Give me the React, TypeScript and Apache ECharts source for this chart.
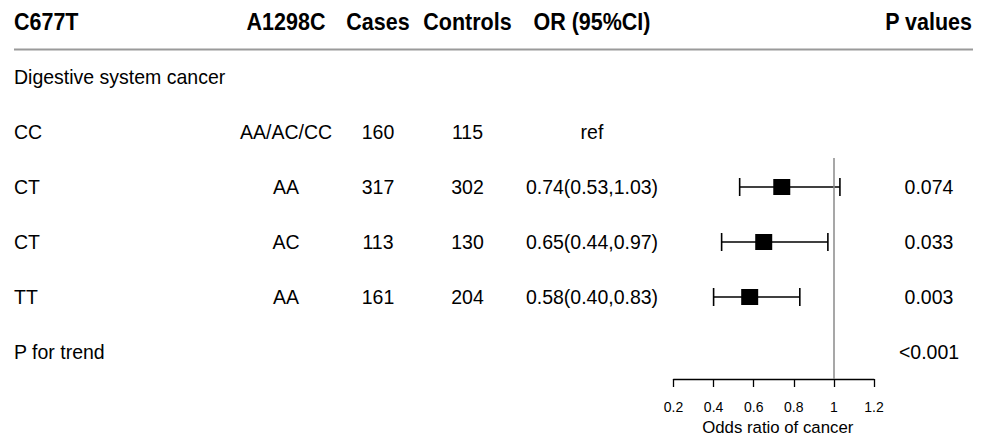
import React, { useEffect, useRef } from "react";
import * as echarts from "echarts";

// ---- Data ----
const headers = ["C677T", "A1298C", "Cases", "Controls", "OR (95%CI)", "P values"];
const groupLabel = "Digestive system cancer";
const c677t = ["CC", "CT", "CT", "TT"];
const a1298c = ["AA/AC/CC", "AA", "AC", "AA"];
const cases = [160, 317, 113, 161];
const controls = [115, 302, 130, 204];
const orText = ["ref", "0.74(0.53,1.03)", "0.65(0.44,0.97)", "0.58(0.40,0.83)"];
const orValues: (number | null)[] = [null, 0.74, 0.65, 0.58];
const ciLow: (number | null)[] = [null, 0.53, 0.44, 0.40];
const ciHigh: (number | null)[] = [null, 1.03, 0.97, 0.83];
const pValues = ["", "0.074", "0.033", "0.003"];
const trendLabel = "P for trend";
const trendP = "<0.001";
const axisTitle = "Odds ratio of cancer";
const refOR = 1;

const FONT = "'Liberation Sans', Arial, Helvetica, sans-serif";

export default function App() {
  const ref = useRef<HTMLDivElement>(null);
  useEffect(() => {
    if (!ref.current) return;
    const chart = echarts.init(ref.current, null, { renderer: "svg" });

    const points = orValues
      .map((v, i) => (v == null ? null : [v, i]))
      .filter((d) => d != null) as number[][];
    const bars = orValues
      .map((v, i) => (v == null ? null : [ciLow[i] as number, ciHigh[i] as number, i]))
      .filter((d) => d != null) as number[][];

    chart.setOption({
      animation: false,
      textStyle: { fontFamily: FONT },
      grid: { left: 673.5, right: 110, top: 158, bottom: 57, containLabel: false, outerBoundsMode: "none" },
      xAxis: {
        type: "value",
        min: 0.2,
        max: 1.2,
        interval: 0.2,
        axisLine: { show: true, lineStyle: { color: "#000", width: 1.3 } },
        axisTick: { show: true, length: 8, lineStyle: { color: "#000", width: 1.3 } },
        axisLabel: { fontSize: 14, color: "#000", margin: 21, fontFamily: FONT },
        splitLine: { show: false },
        name: axisTitle,
        nameLocation: "middle",
        nameGap: 40,
        nameTextStyle: { fontSize: 16.8, color: "#000", fontFamily: FONT, padding: [0, 0, 0, 8] },
      },
      yAxis: {
        type: "value",
        inverse: true,
        min: 0.4727,
        max: 4.4909,
        show: false,
      },
      series: [
        {
          type: "custom",
          data: bars,
          z: 2,
          renderItem: (params: any, api: any) => {
            const y = api.value(2);
            const p1 = api.coord([api.value(0), y]);
            const p2 = api.coord([api.value(1), y]);
            const h = 9;
            const style = { stroke: "#000", lineWidth: 1.6 };
            return {
              type: "group",
              children: [
                { type: "line", shape: { x1: p1[0], y1: p1[1], x2: p2[0], y2: p2[1] }, style },
                { type: "line", shape: { x1: p1[0], y1: p1[1] - h, x2: p1[0], y2: p1[1] + h }, style },
                { type: "line", shape: { x1: p2[0], y1: p2[1] - h, x2: p2[0], y2: p2[1] + h }, style },
              ],
            };
          },
        },
        {
          type: "scatter",
          data: points,
          symbol: "rect",
          symbolSize: [17, 16],
          itemStyle: { color: "#000", opacity: 1 },
          z: 3,
          markLine: {
            silent: true,
            symbol: ["none", "none"],
            label: { show: false },
            lineStyle: { color: "#8a8a8a", width: 1.5, type: "solid", opacity: 1 },
            data: [{ xAxis: refOR }],
          },
        },
      ],
    });

    const rowY = (r: number) => chart.convertToPixel({ yAxisIndex: 0 }, r) as number;
    const body = { fontSize: 19.5, fill: "#000", fontFamily: FONT, verticalAlign: "middle" };
    const head = { fontSize: 21.5, fontWeight: "bold", fill: "#000", fontFamily: FONT, verticalAlign: "middle" };
    const colX = { c677t: 14, a1298c: 286, cases: 378, controls: 467.5, or: 592, p: 929, pHeadRight: 972 };
    const sy = 1.07;

    const g: any[] = [];
    const txt = (x: number, y: number, style: any) => ({ type: "text", x, y, scaleY: sy, style });
    const hy = rowY(-2);
    g.push(txt(colX.c677t, hy, { ...head, text: headers[0], align: "left" }));
    g.push(txt(colX.a1298c, hy, { ...head, text: headers[1], align: "center" }));
    g.push(txt(colX.cases, hy, { ...head, text: headers[2], align: "center" }));
    g.push(txt(colX.controls, hy, { ...head, text: headers[3], align: "center" }));
    g.push(txt(colX.or, hy, { ...head, text: headers[4], align: "center" }));
    g.push(txt(colX.pHeadRight, hy, { ...head, text: headers[5], align: "right" }));
    const ly = rowY(-1.5);
    g.push({ type: "line", shape: { x1: 14, y1: ly, x2: 973, y2: ly }, style: { stroke: "#9a9a9a", lineWidth: 2 } });
    g.push(txt(colX.c677t, rowY(-1), { ...body, text: groupLabel, align: "left" }));
    c677t.forEach((lab, i) => {
      const y = rowY(i);
      g.push(txt(colX.c677t, y, { ...body, text: lab, align: "left" }));
      g.push(txt(colX.a1298c, y, { ...body, text: a1298c[i], align: "center" }));
      g.push(txt(colX.cases, y, { ...body, text: String(cases[i]), align: "center" }));
      g.push(txt(colX.controls, y, { ...body, text: String(controls[i]), align: "center" }));
      g.push(txt(colX.or, y, { ...body, text: orText[i], align: "center" }));
      if (pValues[i]) g.push(txt(colX.p, y, { ...body, text: pValues[i], align: "center" }));
    });
    const ty = rowY(c677t.length);
    g.push(txt(colX.c677t, ty, { ...body, text: trendLabel, align: "left" }));
    g.push(txt(colX.p, ty, { ...body, text: trendP, align: "center" }));

    chart.setOption({ graphic: g });

    return () => chart.dispose();
  }, []);

  return (
    <div
      ref={ref}
      style={{ position: "fixed", left: 0, top: 0, width: 984, height: 436, background: "#fff" }}
    />
  );
}
